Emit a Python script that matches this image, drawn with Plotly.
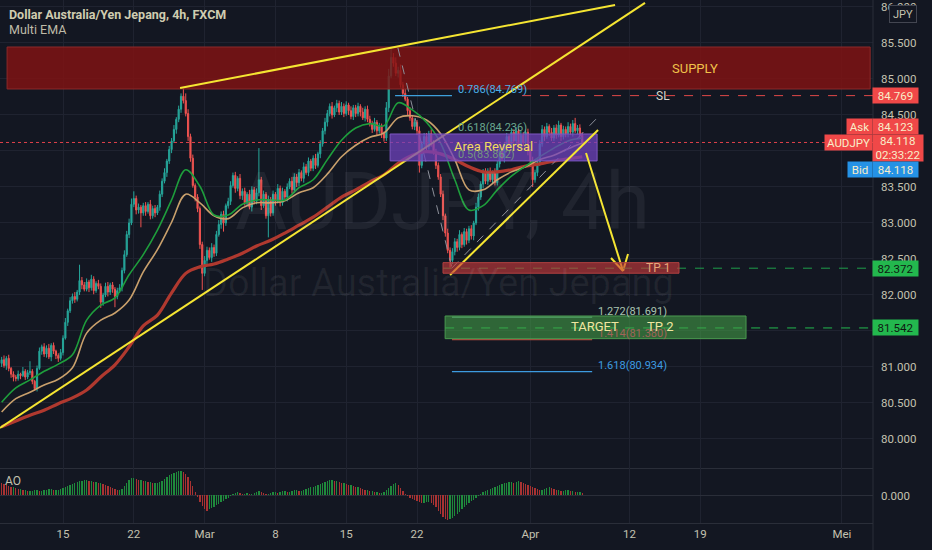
import plotly.graph_objects as go
from plotly.subplots import make_subplots

# ---------------- data ----------------
# bar index: 0 = Mon 15 Feb 00:00, 6 bars (4h) per trading day, 30 bars per week
bar_start = -26
first_open = 81.05
closes = [
    81.10, 81.02, 81.12, 80.98, 80.90, 80.86,
    80.84, 80.90, 80.88, 80.94, 80.86, 80.92,
    80.94, 80.80, 80.70, 80.98, 81.22, 81.28,
    81.18, 81.26, 81.14, 81.30, 81.22, 81.16,
    81.12, 81.20, 81.40, 81.62, 81.78, 81.92,
    81.98, 81.94, 82.04, 82.20, 82.14, 82.08,
    82.18, 82.10, 82.22, 82.06, 82.16, 82.12,
    81.90, 82.00, 82.12, 82.04, 82.14, 82.08,
    81.98, 82.06, 82.10, 82.34, 82.56, 82.84,
    83.00, 83.26, 83.34, 83.18, 83.22, 83.14,
    83.24, 83.16, 83.26, 83.10, 83.20, 83.14,
    83.22, 83.40, 83.58, 83.70, 83.86, 84.02,
    84.14, 84.30, 84.44, 84.58, 84.76, 84.70,
    84.52, 84.20, 83.90, 83.52, 83.36, 83.20,
    82.70, 82.30, 82.48, 82.62, 82.52, 82.66,
    82.58, 82.84, 82.98, 83.12, 83.00, 83.24,
    83.30, 83.52, 83.66, 83.48, 83.62, 83.38,
    83.44, 83.28, 83.40, 83.22, 83.46, 83.30,
    83.42, 83.60, 83.24, 83.40, 83.10, 83.32,
    83.14, 83.40, 83.30, 83.48, 83.28, 83.44,
    83.36, 83.50, 83.58, 83.46, 83.64, 83.56,
    83.70, 83.62, 83.78, 83.70, 83.86, 83.76,
    83.90, 83.80, 83.96, 84.10, 84.28, 84.40,
    84.52, 84.62, 84.50, 84.60, 84.66, 84.54,
    84.62, 84.52, 84.64, 84.56, 84.48, 84.60,
    84.52, 84.62, 84.54, 84.46, 84.58, 84.44,
    84.38, 84.30, 84.40, 84.28, 84.34, 84.24,
    84.18, 84.60, 85.04, 85.30, 85.22, 85.08,
    85.12, 84.92, 84.80, 84.72, 84.56, 84.46,
    84.34, 84.40, 84.28, 83.80, 84.10, 84.20,
    84.06, 84.24, 84.12, 83.98, 83.80, 83.64,
    83.40, 83.10, 82.86, 82.62, 82.48, 82.60,
    82.74, 82.66, 82.84, 82.70, 82.88, 82.76,
    82.92, 82.82, 83.00, 83.22, 83.36, 83.54,
    83.70, 83.58, 83.72, 83.60, 83.70, 83.56,
    83.82, 84.00, 83.90, 84.08, 84.20, 84.10,
    84.26, 84.14, 84.28, 84.06, 84.22, 84.12,
    84.26, 84.00, 83.86, 83.60, 83.70, 83.84,
    84.10, 84.30, 84.20, 84.34, 84.26, 84.18,
    84.32, 84.22, 84.36, 84.20, 84.30, 84.24,
    84.34, 84.26, 84.38, 84.28, 84.32, 84.22,
    84.12,
]
# wick lengths beyond the body, in hundredths of a yen
upper_wick = [
    4, 6, 3, 5, 2, 4,   3, 5, 2, 6, 3, 4,   14, 3, 2, 4, 5, 3,
    5, 4, 6, 3, 4, 2,   3, 5, 4, 6, 3, 5,   4, 6, 3, 22, 5, 4,
    5, 3, 6, 4, 3, 5,   4, 3, 5, 6, 3, 4,   3, 4, 5, 4, 6, 5,
    6, 8, 10, 4, 5, 3,  4, 5, 3, 6, 4, 5,   3, 5, 4, 6, 3, 5,
    4, 6, 3, 5, 4, 12,  10, 6, 4, 5, 3, 4,  3, 4, 6, 5, 4, 6,
    4, 5, 6, 4, 5, 3,   5, 6, 4, 5, 3, 6,   4, 5, 3, 6, 5, 4,
    6, 44, 4, 5, 3, 6,  4, 5, 3, 6, 4, 5,   3, 5, 4, 6, 5, 4,
    5, 3, 6, 4, 5, 3,   4, 6, 3, 5, 4, 6,   5, 4, 6, 3, 5, 4,
    6, 4, 5, 3, 6, 4,   4, 5, 3, 6, 4, 5,   5, 4, 6, 3, 5, 4,
    3, 8, 10, 14, 6, 8, 5, 8, 4, 6, 3, 5,   4, 5, 3, 6, 4, 5,
    5, 4, 6, 3, 5, 4,   4, 5, 3, 6, 4, 5,   5, 4, 6, 3, 5, 4,
    4, 5, 3, 6, 5, 4,   5, 6, 4, 5, 3, 6,   4, 5, 6, 4, 5, 3,
    6, 4, 5, 3, 6, 4,   4, 5, 3, 6, 4, 5,   5, 6, 4, 5, 3, 6,
    4, 5, 6, 3, 5, 4,   6, 4, 5, 8, 4, 5,   4,
]
lower_wick = [
    5, 3, 6, 4, 5, 6,   4, 3, 5, 2, 4, 3,   3, 4, 3, 4, 2, 5,
    4, 5, 3, 6, 4, 5,   5, 3, 4, 2, 5, 3,   4, 5, 3, 4, 6, 3,
    3, 6, 4, 5, 3, 4,   8, 5, 3, 6, 4, 5,   15, 4, 3, 5, 4, 3,
    5, 3, 4, 6, 5, 20,  4, 6, 3, 5, 4, 6,   3, 5, 4, 3, 6, 4,
    5, 3, 6, 4, 5, 4,   4, 6, 5, 3, 6, 5,   6, 23, 4, 5, 3, 6,
    5, 4, 3, 6, 12, 4,  4, 5, 3, 6, 4, 5,   6, 4, 5, 3, 6, 4,
    4, 5, 6, 3, 4, 30,  5, 4, 6, 3, 5, 4,   4, 6, 3, 5, 4, 6,
    5, 4, 6, 3, 5, 4,   4, 5, 3, 6, 4, 5,   6, 4, 5, 3, 6, 4,
    4, 5, 3, 6, 4, 5,   5, 4, 6, 3, 5, 4,   4, 5, 3, 6, 4, 6,
    5, 4, 6, 3, 5, 4,   6, 4, 5, 3, 6, 4,   4, 5, 6, 10, 4, 5,
    5, 4, 6, 3, 5, 4,   4, 6, 5, 4, 10, 5,  5, 6, 4, 5, 3, 6,
    4, 5, 6, 3, 5, 4,   6, 4, 5, 3, 6, 4,   4, 5, 3, 6, 4, 5,
    5, 4, 6, 3, 5, 4,   4, 6, 5, 10, 4, 5,  5, 4, 6, 3, 5, 4,
    4, 5, 3, 6, 4, 5,   5, 4, 6, 3, 5, 4,   5,
]
# Awesome Oscillator (relative units)
ao = [
    12, 11, 10, 9, 8, 8,   7, 6, 6, 5, 5, 4,   4, 4, 5, 5, 4, 4,
    5, 5, 6, 6, 5, 5,      5, 6, 7, 8, 9, 10,  11, 12, 13, 14, 14, 15,
    15, 14, 14, 13, 13, 12, 12, 11, 10, 9, 8, 7, 6, 5, 5, 6, 9, 12,
    15, 17, 17, 16, 15, 15, 14, 14, 13, 13, 12, 12, 12, 13, 14, 16, 18, 20,
    21, 22, 23, 24, 24, 23, 21, 18, 14, 9, 3, -2, -7, -11, -14, -15, -14, -13,
    -12, -10, -9, -7, -6, -4, -3, -1, 1, 2, 3, 2, 1, 1, 2, 1, 1, 2,
    3, 4, 3, 2, 1, 1,      2, 3, 3, 2, 3, 4,   4, 3, 3, 4, 5, 5,
    4, 4, 5, 6, 7, 8,      8, 9, 10, 11, 12, 13, 14, 15, 15, 14, 14, 13,
    12, 12, 11, 10, 10, 9, 8, 8, 7, 6, 5, 5,   4, 4, 3, 3, 2, 2,
    3, 5, 7, 9, 11, 12,    10, 7, 4, 1, -1, -3, -4, -5, -6, -7, -8, -8,
    -7, -7, -8, -10, -12, -15, -18, -21, -23, -24, -23, -22,
    -20, -18, -16, -14, -12, -10, -8, -6, -5, -3, -1, 1,
    3, 4, 5, 6, 7, 8,      9, 10, 11, 12, 12, 13, 13, 12, 13, 14, 13, 12,
    11, 10, 9, 8, 7, 6,    5, 5, 6, 7, 8, 7,   6, 5, 5, 4, 4, 5,
    5, 4, 4, 3, 3, 3,      2,
]
# Multi EMA lines, read once per trading day
ema_idx = list(range(-26, 221, 6))
ema_fast = [80.51, 80.71, 80.82, 80.94, 81.04, 81.17, 81.65, 81.86, 81.96, 82.28,
            82.56, 82.90, 83.32, 83.74, 83.51, 83.11, 83.11, 83.26, 83.32, 83.32,
            83.32, 83.49, 83.60, 83.88, 84.15, 84.32, 84.38, 84.35, 84.67, 84.57,
            84.40, 84.11, 83.60, 83.18, 83.24, 83.46, 83.65, 83.79, 83.92, 84.04,
            84.14, 84.18]
ema_mid = [80.375, 80.56, 80.65, 80.75, 80.83, 80.99, 81.47, 81.65, 81.75, 81.93,
           82.32, 82.63, 83.01, 83.40, 83.28, 83.10, 83.06, 83.21, 83.28, 83.28,
           83.31, 83.42, 83.49, 83.68, 83.92, 84.08, 84.19, 84.25, 84.46, 84.49,
           84.43, 84.24, 83.88, 83.46, 83.46, 83.60, 83.71, 83.78, 83.88, 83.94,
           84.03, 84.11]
ema_slow = [80.17, 80.25, 80.33, 80.40, 80.49, 80.57, 80.68, 80.86, 81.03, 81.28,
            81.57, 81.72, 82.03, 82.30, 82.39, 82.43, 82.50, 82.58, 82.68, 82.76,
            82.86, 82.97, 83.08, 83.22, 83.36, 83.46, 83.57, 83.67, 83.83, 83.94,
            83.99, 83.96, 83.88, 83.78, 83.71, 83.71, 83.74, 83.79, 83.82, 83.86,
            83.89, 83.92]
tick_idx = [0, 30, 60, 90, 120, 150, 198, 240, 270, 330]
tick_text = ['15', '22', 'Mar', '8', '15', '22', 'Apr', '12', '19', 'Mei']
price_ticks = [80.0, 80.5, 81.0, 81.5, 82.0, 82.5, 83.0, 83.5, 84.0, 84.5, 85.0, 85.5, 86.0]
# 81.500 and 84.000 are hidden behind the price tags in the original
price_text = ['80.000', '80.500', '81.000', '', '82.000', '82.500', '83.000',
              '83.500', '', '84.500', '85.000', '85.500', '86.000']
last_price = 84.118
ask_price = 84.123
sl_price = 84.769
tp1_price = 82.372
tp2_price = 81.542
fib_names = ['0.786', '0.618', '0.5', '1.272', '1.414', '1.618']
fib_prices = [84.769, 84.236, 83.862, 81.691, 81.380, 80.934]

# ---------------- figure ----------------
BG = '#131722'
GRID = '#1f2330'
AXTXT = '#c4c2b0'
FONT = 'Roboto'
X0, X1 = -26.7, 343.2

n = len(closes)
xs = list(range(bar_start, bar_start + n))
opens = [first_open] + closes[:-1]
highs = [max(o, c) + u / 100 for o, c, u in zip(opens, closes, upper_wick)]
lows = [min(o, c) - l / 100 for o, c, l in zip(opens, closes, lower_wick)]

fig = make_subplots(rows=2, cols=1, shared_xaxes=True, vertical_spacing=0,
                    row_heights=[0.8948, 0.1052])

fig.add_trace(go.Scatter(x=ema_idx, y=ema_slow, mode='lines',
                         line=dict(color='#b0392f', width=3.2, shape='spline', smoothing=1.0),
                         hoverinfo='skip', showlegend=False), row=1, col=1)
fig.add_trace(go.Scatter(x=ema_idx, y=ema_mid, mode='lines',
                         line=dict(color='#c9a06c', width=1.6, shape='spline', smoothing=1.0),
                         hoverinfo='skip', showlegend=False), row=1, col=1)
fig.add_trace(go.Scatter(x=ema_idx, y=ema_fast, mode='lines',
                         line=dict(color='#1e9e3c', width=1.6, shape='spline', smoothing=1.0),
                         hoverinfo='skip', showlegend=False), row=1, col=1)
fig.add_trace(go.Candlestick(
    x=xs, open=opens, high=highs, low=lows, close=closes,
    increasing=dict(line=dict(color='#26a69a', width=1), fillcolor='#26a69a'),
    decreasing=dict(line=dict(color='#ef5350', width=1), fillcolor='#ef5350'),
    whiskerwidth=0, hoverinfo='skip', showlegend=False), row=1, col=1)

ao_colors = ['#a83232'] + ['#1f8a3c' if ao[k] >= ao[k - 1] else '#a83232' for k in range(1, len(ao))]
fig.add_trace(go.Bar(x=xs, y=ao, marker=dict(color=ao_colors, line=dict(width=0)),
                     width=0.55, hoverinfo='skip', showlegend=False), row=2, col=1)

# ---------------- axes ----------------
fig.update_xaxes(range=[X0, X1], tickvals=tick_idx, ticktext=tick_text,
                 showgrid=True, gridcolor=GRID, gridwidth=1, zeroline=False,
                 rangeslider_visible=False, ticks='', fixedrange=True)
fig.update_xaxes(showticklabels=False, showline=True, linecolor='#2a2e39', row=1, col=1)
fig.update_xaxes(showticklabels=True, showline=True, linecolor='#2a2e39',
                 tickfont=dict(family=FONT, size=11.5, color=AXTXT), row=2, col=1)
fig.update_yaxes(side='right', range=[79.597, 86.097], tickvals=price_ticks, ticktext=price_text,
                 showgrid=True, gridcolor=GRID, zeroline=False, ticks='', ticklabelstandoff=7,
                 tickfont=dict(family=FONT, size=11.5, color=AXTXT), showline=False, row=1, col=1)
fig.update_yaxes(side='right', range=[-27.5, 27.5], tickvals=[0], ticktext=['0.000'],
                 showgrid=True, gridcolor='#2a2e39', zeroline=False, ticks='', ticklabelstandoff=7,
                 tickfont=dict(family=FONT, size=11.5, color=AXTXT), row=2, col=1)

shapes = []
def line(x0, y0, x1, y1, color, width=1, dash='solid', xref='x', yref='y'):
    shapes.append(dict(type='line', x0=x0, y0=y0, x1=x1, y1=y1, xref=xref, yref=yref,
                       line=dict(color=color, width=width, dash=dash), layer='above'))
def rect(x0, y0, x1, y1, fill, border):
    shapes.append(dict(type='rect', x0=x0, y0=y0, x1=x1, y1=y1, xref='x', yref='y',
                       fillcolor=fill, line=dict(color=border, width=1), layer='above'))

# price axis border
line(1, -0.052, 1, 1, '#2a2e39', xref='paper', yref='paper')
# current price dotted line
line(X0, last_price, X1, last_price, '#e0414a', 1, 'dot')
# supply zone
rect(-23.7, 84.861, 342.0, 85.444, 'rgba(130,18,18,0.82)', '#8c2a2a')
# trend lines
YEL = '#f5e532'
line(49.6, 84.875, 233.9, 86.028, YEL, 2)
line(-26.7, 80.153, 246.6, 86.056, YEL, 2)
# fib helper dashed legs
line(141.9, 85.431, 164.8, 82.375, '#8d909a', 1, 'dash')
line(164.8, 82.375, 226.7, 84.472, '#8d909a', 1, 'dash')
# fib extension lines
line(140.7, fib_prices[0], 164.8, fib_prices[0], '#3ea0dc', 1.2)
line(164.8, fib_prices[3], 224.2, fib_prices[3], '#6aa89a', 1.2)
line(164.8, fib_prices[4], 224.2, fib_prices[4], '#b0473e', 1.2)
line(164.8, fib_prices[5], 224.2, fib_prices[5], '#3d9be0', 1.2)
# SL line
line(194.5, sl_price, X1, sl_price, '#e04848', 1, 'dash')
# area reversal box
rect(138.6, fib_prices[2], 226.3, fib_prices[1], 'rgba(112,66,192,0.74)', '#7e57c2')
# lower wedge line + arrow
line(164.0, 82.278, 226.7, 84.292, YEL, 2)
line(221.6, 83.972, 237.3, 82.333, YEL, 2)
line(232.2, 82.514, 237.3, 82.333, YEL, 2)
line(239.4, 82.569, 237.3, 82.333, YEL, 2)
# TP1 zone
line(161.0, tp1_price, X1, tp1_price, '#1f9e4a', 1, 'dash')
rect(161.0, 82.302, 261.0, 82.449, 'rgba(200,58,58,0.62)', '#b04040')
# TP2 / target zone
line(161.9, tp2_price, X1, tp2_price, '#23b84e', 1, 'dash')
rect(161.9, 81.393, 289.4, 81.708, 'rgba(67,160,71,0.58)', '#4a9a50')

ann = []
def text(x, y, s, color, size=12, xanchor='center', yshift=0, xref='x', yref='y', bold=False):
    ann.append(dict(x=x, y=y, xref=xref, yref=yref, text=('<b>%s</b>' % s) if bold else s,
                    showarrow=False, xanchor=xanchor, yanchor='middle', yshift=yshift,
                    font=dict(family=FONT, size=size, color=color)))

# watermark
text(0.507, 0.613, 'AUDJPY, 4h', 'rgba(255,255,255,0.06)', 80, xref='paper', yref='paper')
text(0.502, 0.459, 'Dollar Australia/Yen Jepang', 'rgba(255,255,255,0.06)', 38, xref='paper', yref='paper')
# header
text(0.008, 0.973, 'Dollar Australia/Yen Jepang, 4h, FXCM', '#cfccb0', 12.5, 'left', xref='paper', yref='paper', bold=True)
text(0.008, 0.944, 'Multi EMA', '#bebba8', 12.5, 'left', xref='paper', yref='paper')
text(0.015, 0.08, 'AO', '#c4c2b0', 12, 'center', xref='paper', yref='paper')
# drawing labels
text(267.8, 85.139, 'SUPPLY', '#f0c24a', 13)
text(254.2, sl_price, 'SL', '#d8d6cc', 12)
text(182.2, 84.056, 'Area Reversal', '#f2dc5d', 13)
fib_colors = ['#4ab0e8', '#6aa88f', '#74957f', '#a8c4b0', '#a0645a', '#3d9be0']
for k, (nm, pr) in enumerate(zip(fib_names, fib_prices)):
    xx = 166.5 if k < 3 else 225.8
    text(xx, pr, '%s(%.3f)' % (nm, pr), fib_colors[k], 11, 'left', yshift=6)
text(251.9, tp1_price, 'TP 1', '#e6a77a', 12)
text(225.2, 81.556, 'TARGET', '#f0e6a0', 13)
text(253.2, 81.556, 'TP 2', '#f0e6a0', 13)

# price tags on axis
def tag(y, s, bg, fg, x_px=872, w=45, h=15, yshift=0, yanchor='middle'):
    ann.append(dict(x=x_px / 873, y=y, xref='paper', yref='y', text=s, showarrow=False,
                    xanchor='left', yanchor=yanchor, yshift=yshift, width=w, height=h,
                    bgcolor=bg, borderpad=0, align='center', valign='middle',
                    font=dict(family=FONT, size=11.5, color=fg)))
RED = '#f04848'
PALE = '#f8edc8'
tag(sl_price, '%.3f' % sl_price, RED, PALE)
tag(last_price, 'Ask', RED, PALE, x_px=846, w=25, yshift=15.5)
tag(last_price, '%.3f' % ask_price, RED, PALE, yshift=15.5)
tag(last_price, 'AUDJPY', RED, PALE, x_px=824, w=47, yshift=8.5, yanchor='top')
tag(last_price, '%.3f<br>02:33:22' % last_price, RED, PALE, w=50, h=26, yshift=8.5, yanchor='top')
tag(last_price, 'Bid', '#2592e6', PALE, x_px=847, w=24, yshift=-27.5)
tag(last_price, '%.3f' % last_price, '#2592e6', PALE, yshift=-27.5)
tag(tp1_price, '%.3f' % tp1_price, '#23b84e', '#0f1a12')
tag(tp2_price, '%.3f' % tp2_price, '#23b84e', '#0f1a12')
ann.append(dict(x=889 / 873, y=1 - 14 / 523, xref='paper', yref='paper', text='JPY', showarrow=False,
                xanchor='left', yanchor='middle', width=26, height=16, bgcolor=BG,
                bordercolor='#434651', borderwidth=1, borderpad=0,
                font=dict(family=FONT, size=11, color=AXTXT)))

fig.update_layout(width=932, height=550, margin=dict(l=0, r=59, t=0, b=27),
                  paper_bgcolor=BG, plot_bgcolor=BG, showlegend=False,
                  hovermode=False, dragmode=False, bargap=0,
                  shapes=shapes, annotations=ann)
fig.write_html('out.html', config={'displayModeBar': False, 'staticPlot': True},
               post_script="document.body.style.margin='0px';document.body.style.background='#131722';")
